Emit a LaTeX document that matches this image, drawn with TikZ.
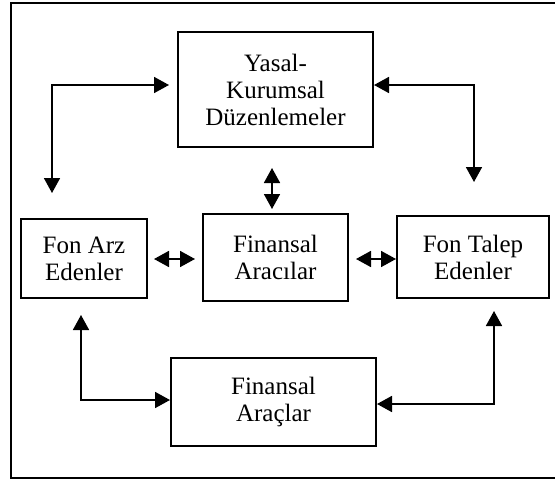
\documentclass[tikz,border=0pt]{standalone}
\usepackage{fontspec}
\setmainfont{Liberation Serif}
\usetikzlibrary{arrows.meta}
\usetikzlibrary{positioning}

\begin{document}
\begin{tikzpicture}[
  x=1pt, y=-1pt,
  box/.style={draw, line width=2pt, inner sep=0pt, align=center,
    font=\fontsize{25}{27}\selectfont},
  conn/.style={line width=1.7pt, {Triangle[length=15pt,width=16pt]}-{Triangle[length=15pt,width=16pt]}}
]

\useasboundingbox (0,0) rectangle (555,479);
\draw[line width=2pt] (11,3) rectangle (560,478);

\node (yasal) [box, minimum width=195pt, minimum height=115pt] at (275.5,89.5)
  {Yasal-\\Kurumsal\\Düzenlemeler};
\node (arz) [box, minimum width=126pt, minimum height=79pt] at (84,258.5)
  {Fon Arz\\Edenler};
\node (aracilar) [box, minimum width=145pt, minimum height=87pt] at (275.5,257.5)
  {Finansal\\Aracılar};
\node (talep) [box, minimum width=152pt, minimum height=82pt] at (473,257)
  {Fon Talep\\Edenler};
\node (araclar) [box, minimum width=205pt, minimum height=88pt] at (273.5,402)
  {Finansal\\Araçlar};

% free ends of the upper connectors
\coordinate (ltop) at (52,193);
\coordinate (rtop) at (474,182);

\draw[conn, shorten >=8pt] (ltop) |- ([yshift=4.5pt]yasal.west);
\draw[conn] (rtop) |- ([yshift=4.5pt]yasal.east);
\draw[conn, shorten <=20pt, shorten >=4pt] ([xshift=-3.5pt]yasal.south) -- ([xshift=-3.5pt]aracilar.north);

\draw[conn, shorten <=6pt, shorten >=7pt] ([yshift=-0.5pt]arz.east) -- ([yshift=-1.5pt]aracilar.west);
\draw[conn, shorten <=7pt] ([yshift=-1.5pt]aracilar.east) -- ([yshift=-2pt]talep.west);

\draw[conn, shorten <=16pt] ([xshift=-3pt]arz.south) |- ([yshift=2pt]araclar.west);
\draw[conn, shorten <=12pt] ([xshift=21pt]talep.south) |- ([yshift=-2pt]araclar.east);

\end{tikzpicture}
\end{document}
